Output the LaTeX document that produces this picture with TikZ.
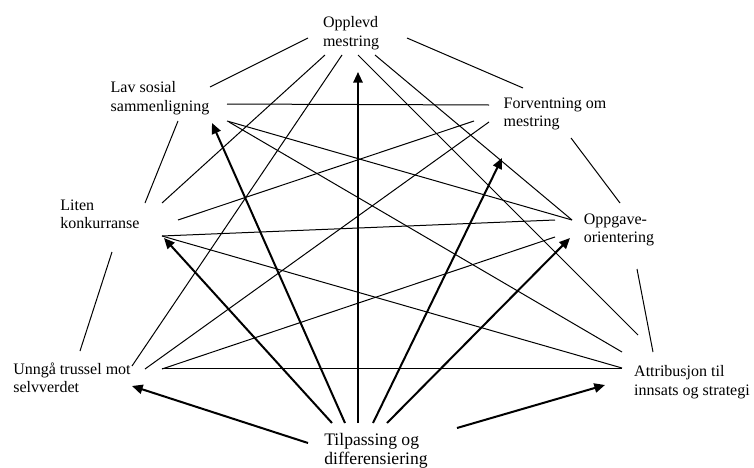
\documentclass[tikz,border=0pt]{standalone}
\usepackage{fontspec}
\setmainfont{Liberation Serif}
\usetikzlibrary{arrows.meta}
\def\tail{-28}
\tikzset{term/.style={align=left, inner sep=0pt, font=\fontsize{12}{13.8}\selectfont},
  link/.style={line width=0.75pt},
  push/.style={line width=1.5pt, -{Triangle[length=8pt,width=7pt]}}}

\begin{document}
\begin{tikzpicture}[x=0.75pt,y=-0.75pt]
      \useasboundingbox (0,0) rectangle (754,468);
      % Begreper
      \node[term] (opplevd) at (351,33) {Opplevd\\mestring};
      \node[term] (lav) at (160,98) {Lav sosial\\sammenligning};
      \node[term] (forv) at (555,114) {Forventning om\\mestring};
      \node[term] (liten) at (100,214) {Liten\\konkurranse};
      \node[term] (oppg) at (619,230) {Oppgave-\\orientering};
      \node[term] (unnga) at (72,378) {Unngå trussel mot\\selvverdet};
      \node[term] (attr) at (692,382) {Attribusjon til\\innsats og strategi};
      \node[term, font=\fontsize{13.2}{14.6}\selectfont] (tilp) at (376,451) {Tilpassing og\\differensiering};

      % Ytre ring
      \draw[link] ([shift={(-43,5)}]opplevd.center) -- ([shift={(50,-11)}]lav.center);
      \draw[link] ([shift={(56,5)}]opplevd.center) -- ([shift={(-32,-26)}]forv.center);
      \draw[link] ([shift={(18,23)}]lav.center) -- ([shift={(45,-11)}]liten.center);
      \draw[link] ([shift={(16,24)}]forv.center) -- ([shift={(1,-27)}]oppg.center);
      \draw[link] ([shift={(12,38)}]liten.center) -- ([shift={(8,-27)}]unnga.center);
      \draw[link] ([shift={(18,39)}]oppg.center) -- ([shift={(-39,-30)}]attr.center);

      % Kryssende linjer
      \draw[link] ([shift={(-26,22)}]opplevd.center) -- ([shift={(62,-11)}]liten.center);
      \draw[link] ([shift={(-9,22)}]opplevd.center) -- ([shift={(60,-12)}]unnga.center);
      \draw[link] ([shift={(7,22)}]opplevd.center) -- ([shift={(-54,-47)}]attr.center);
      \draw[link] ([shift={(24,22)}]opplevd.center) -- ([shift={(-47,-10)}]oppg.center);
      \draw[link] ([shift={(67,6)}]lav.center) -- ([shift={(-66,-9)}]forv.center);
      \draw[link] ([shift={(67,23)}]lav.center) -- ([shift={(-47,-10)}]oppg.center);
      \draw[link] ([shift={(69,24)}]lav.center) -- ([shift={(-70,-30)}]attr.center);
      \draw[link] ([shift={(78,6)}]liten.center) -- ([shift={(-81,7)}]forv.center);
      \draw[link] ([shift={(62,22)}]liten.center) -- ([shift={(-64,-10)}]oppg.center);
      \draw[link] ([shift={(62,22)}]liten.center) -- ([shift={(-70,-14)}]attr.center);
      \draw[link] ([shift={(73,-9)}]unnga.center) -- ([shift={(-66,8)}]forv.center);
      \draw[link] ([shift={(90,-9)}]unnga.center) -- ([shift={(-64,7)}]oppg.center);
      \draw[link] ([shift={(90,-10)}]unnga.center) -- ([shift={(-70,-14)}]attr.center);

      % Piler fra tilpassing
      \foreach \dx/\n/\ex/\ey in {-44/liten/64/24, -31/lav/52/25, -18/opplevd/7/39, -3/forv/-53/44, 11/oppg/-49/8}
          \draw[push] ([shift={(\dx,\tail)}]tilp.center) -- ([shift={(\ex,\ey)}]\n.center);
      \draw[push] ([shift={(-68,-8)}]tilp.center) -- ([shift={(60,8)}]unnga.center);
      \draw[push] ([shift={(81,-23)}]tilp.center) -- ([shift={(-87,3)}]attr.center);
      \end{tikzpicture}
\end{document}
